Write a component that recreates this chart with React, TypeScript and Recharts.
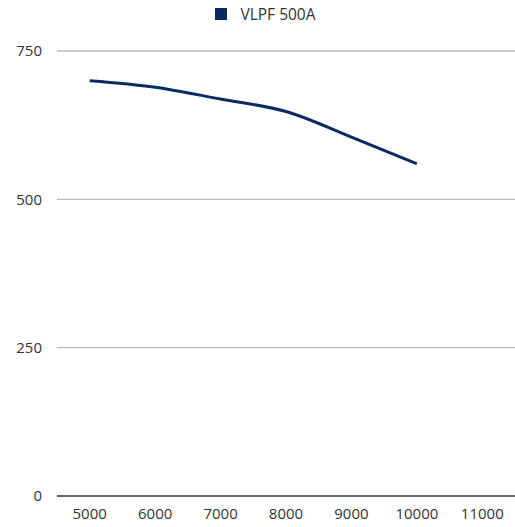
import React from "react";
import { LineChart, Line, XAxis, YAxis, CartesianGrid } from "recharts";

const rpm = ["5000", "6000", "7000", "8000", "9000", "10000", "11000"];
const vlpf500a = [700, 689, 669, 648, 605, 560, null];
const yTicks = [0, 250, 500, 750];

const data = rpm.map((r, i) => ({ rpm: r, value: vlpf500a[i] }));

const font = "'Open Sans', sans-serif";
const navy = "#0a2a63";

export default function App() {
  return (
    <div style={{ position: "fixed", left: 0, top: 0, width: 515, height: 527, background: "#fff" }}>
      {/* legend */}
      <div
        style={{
          position: "absolute",
          top: 3,
          left: 8,
          width: 515,
          display: "flex",
          justifyContent: "center",
          alignItems: "center",
          gap: 13,
          fontFamily: font,
          fontSize: 15.5,
          color: "#333",
        }}
      >
        <span style={{ width: 12, height: 12, background: navy, display: "inline-block" }} />
        <span>VLPF 500A</span>
      </div>
      <LineChart width={515} height={527} data={data} margin={{ top: 51, right: 0, bottom: 0, left: 0 }}>
        <CartesianGrid horizontal vertical={false} stroke="#bdbdbd" strokeWidth={1.4} />
        <XAxis
          dataKey="rpm"
          type="category"
          scale="band"
          tickLine={false}
          axisLine={{ stroke: "#666", strokeWidth: 2 }}
          tick={{ fill: "#333", fontSize: 15, fontFamily: font }}
          tickMargin={6}
          height={31}
          interval={0}
        />
        <YAxis
          domain={[0, 750]}
          ticks={yTicks}
          axisLine={false}
          tickLine={false}
          tickSize={0}
          tickMargin={15}
          width={57}
          tick={{ fill: "#333", fontSize: 15, fontFamily: font }}
        />
        <Line
          type="monotone"
          dataKey="value"
          stroke={navy}
          strokeWidth={3}
          dot={false}
          isAnimationActive={false}
        />
      </LineChart>
    </div>
  );
}
